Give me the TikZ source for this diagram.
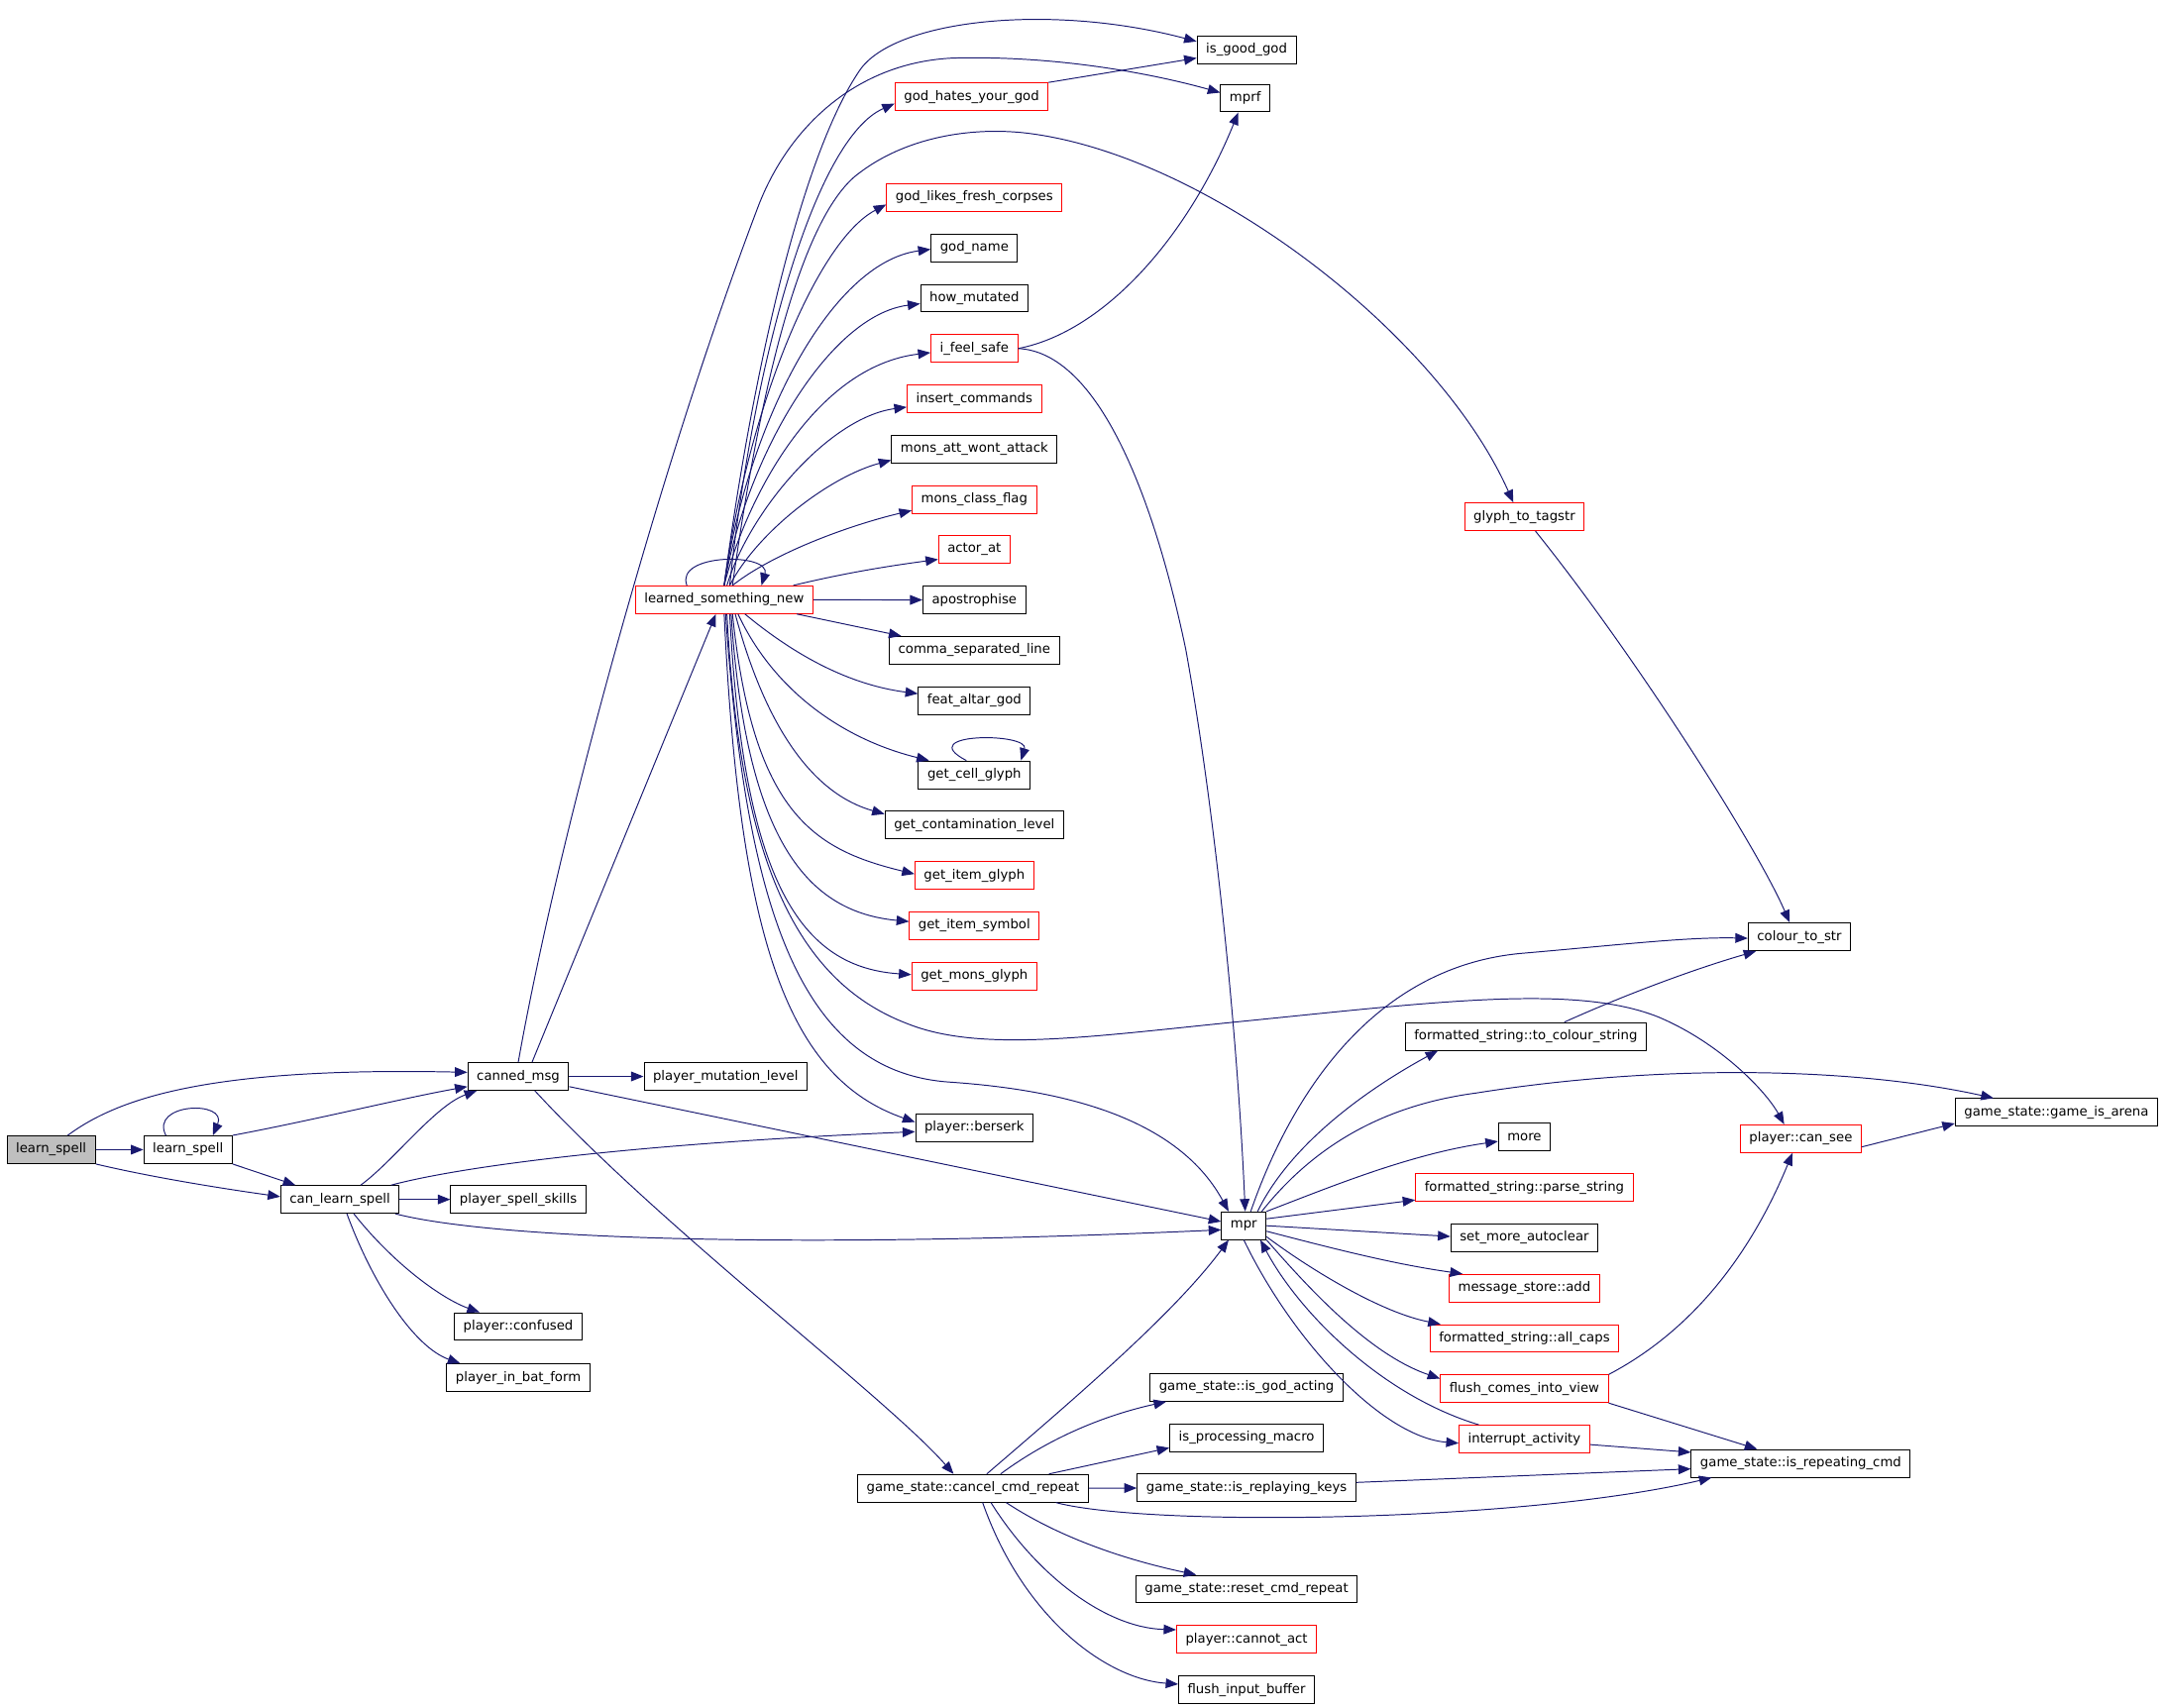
\documentclass[tikz,border=0pt]{standalone}
\usepackage{fontspec}
\setmainfont{DejaVu Sans}
\usepackage{xcolor}
\usepackage{tikz}
\usetikzlibrary{arrows.meta, positioning}

\definecolor{edgeblue}{HTML}{191970}
\definecolor{nodered}{HTML}{FF0000}
\definecolor{rootgray}{HTML}{BFBFBF}

\begin{document}
\begin{tikzpicture}[
    x=1pt, y=-1pt,
    node distance=15.7pt,
    box/.style={rectangle, draw=black, line width=0.7pt, fill=white, inner xsep=6.5pt, inner ysep=0pt, minimum height=20pt, font=\fontsize{9.5}{11}\selectfont},
    redbox/.style={box, draw=nodered},
    rootbox/.style={box, fill=rootgray},
    arrow/.style={-{Triangle[length=9pt, width=7pt]}, edgeblue, line width=0.7pt}
]
\useasboundingbox (0,0) rectangle (1568,1236);

% left part
\node[rootbox] (learn) at (37,832) {learn\_spell};
\node[box] (learn2) at (136,832) {learn\_spell};
\node[box] (canlearn) at (246,868) {can\_learn\_spell};
\node[box] (canned) at (375,779) {canned\_msg};
\node[box] (mutlevel) at (525,779) {player\_mutation\_level};
\node[box] (spellskills) at (375,868) {player\_spell\_skills};
\node[box] (confused) at (375,960) {player::confused};
\node[box] (batform) at (375,997) {player\_in\_bat\_form};

% learned_something_new and its callees
\node[redbox] (lsn) at (524,434) {learned\_something\_new};
\node[redbox] (ghyg) at (703,70) {god\_hates\_your\_god};
\node[redbox] (godlikes) at (705,143) {god\_likes\_fresh\_corpses};
\node[box, below=of godlikes] (godname) {god\_name};
\node[box, below=of godname] (howmut) {how\_mutated};
\node[redbox, below=of howmut] (feelsafe) {i\_feel\_safe};
\node[redbox, below=of feelsafe] (insert) {insert\_commands};
\node[box, below=of insert] (monsatt) {mons\_att\_wont\_attack};
\node[redbox, below=of monsatt] (monsclass) {mons\_class\_flag};
\node[redbox, below=of monsclass] (actor) {actor\_at};
\node[box, below=of actor] (apost) {apostrophise};
\node[box, below=of apost] (comma) {comma\_separated\_line};
\node[box, below=of comma] (feat) {feat\_altar\_god};
\node[box, below=33pt of feat] (cellglyph) {get\_cell\_glyph};
\node[box, below=of cellglyph] (contam) {get\_contamination\_level};
\node[redbox, below=of contam] (itemglyph) {get\_item\_glyph};
\node[redbox, below=of itemglyph] (itemsym) {get\_item\_symbol};
\node[redbox, below=of itemsym] (monsglyph) {get\_mons\_glyph};
\node[box] (berserk) at (705,816) {player::berserk};

% top right
\node[box] (isgood) at (902,36) {is\_good\_god};
\node[box] (mprf) at (901,71) {mprf};
\node[redbox] (glyph) at (1103,374) {glyph\_to\_tagstr};
\node[box] (colour) at (1302,678) {colour\_to\_str};
\node[box] (tocolour) at (1104,750) {formatted\_string::to\_colour\_string};
\node[box] (arena) at (1488,805) {game\_state::game\_is\_arena};
\node[redbox] (cansee) at (1303,824) {player::can\_see};

% mpr and its callees
\node[box] (mpr) at (900,887) {mpr};
\node[box] (more) at (1103,823) {more};
\node[redbox, below=of more] (parse) {formatted\_string::parse\_string};
\node[box, below=of parse] (setmore) {set\_more\_autoclear};
\node[redbox, below=of setmore] (msgadd) {message\_store::add};
\node[redbox, below=of msgadd] (allcaps) {formatted\_string::all\_caps};
\node[redbox, below=of allcaps] (flushview) {flush\_comes\_into\_view};
\node[redbox, below=of flushview] (interrupt) {interrupt\_activity};
\node[box] (repeating) at (1303,1059) {game\_state::is\_repeating\_cmd};

% cancel_cmd_repeat and its callees
\node[box] (cancel) at (704,1077) {game\_state::cancel\_cmd\_repeat};
\node[box] (isgod) at (902,1004) {game\_state::is\_god\_acting};
\node[box, below=of isgod] (isproc) {is\_processing\_macro};
\node[box, below=of isproc] (replay) {game\_state::is\_replaying\_keys};
\node[box] (reset) at (902,1150) {game\_state::reset\_cmd\_repeat};
\node[redbox, below=of reset] (cannotact) {player::cannot\_act};
\node[box, below=of cannotact] (flushinput) {flush\_input\_buffer};

% edges from learn_spell
\draw[arrow] (learn) -- (learn2);
\draw[arrow] ([xshift=12pt]learn.north) .. controls (85,795) and (150,772) .. ([yshift=3pt]canned.west);
\draw[arrow] (learn.south east) .. controls (110,852) and (160,860) .. ([yshift=2pt]canlearn.west);
\draw[arrow] ([xshift=-16pt]learn2.north) .. controls (108,798) and (165,796) .. ([xshift=18pt]learn2.north);
\draw[arrow] (learn2.north east) .. controls (230,810) and (290,795) .. ([yshift=3pt]canned.south west);
\draw[arrow] (learn2.south east) -- ([xshift=11pt]canlearn.north west);

% edges from can_learn_spell
\draw[arrow] ([xshift=15pt]canlearn.north) .. controls (285,840) and (315,800) .. ([xshift=-30pt]canned.south);
\draw[arrow] (canlearn) -- (spellskills);
\draw[arrow] ([xshift=37pt]canlearn.north) .. controls (330,845) and (450,828) .. ([yshift=-3pt]berserk.west);
\draw[arrow] ([xshift=40pt]canlearn.south) .. controls (350,895) and (550,905) .. ([yshift=-3pt]mpr.west);
\draw[arrow] ([xshift=10pt]canlearn.south) .. controls (285,915) and (320,940) .. ([xshift=-28pt]confused.north);
\draw[arrow] ([xshift=5pt]canlearn.south) .. controls (270,930) and (300,975) .. ([xshift=-42pt]batform.north);

% edges from canned_msg
\draw[arrow] (canned) -- (mutlevel);
\draw[arrow] ([yshift=3pt]canned.south east) -- ([yshift=3pt]mpr.west);
\draw[arrow] ([xshift=12pt]canned.south) .. controls (480,890) and (640,1010) .. ([xshift=-14pt]cancel.north);
\draw[arrow] (canned.north) .. controls (405,600) and (480,330) .. (548,151) .. controls (570,92) and (620,45) .. (690,42) .. controls (770,40) and (840,55) .. ([yshift=4pt]mprf.west);
\draw[arrow] ([xshift=10pt]canned.north) -- ([xshift=-6pt]lsn.south);

% edges from learned_something_new
\draw[arrow] ([xshift=-27pt]lsn.north) .. controls (488,400) and (558,400) .. ([xshift=27pt]lsn.north);
\draw[arrow] (lsn.north) .. controls (540,300) and (575,120) .. (622,51) .. controls (647,14) and (760,2) .. ([yshift=6pt]isgood.west);
\draw[arrow] ([xshift=4pt]lsn.north) .. controls (545,260) and (590,100) .. ([yshift=-5pt]ghyg.west);
\draw[arrow] ([xshift=6pt]lsn.north) .. controls (550,280) and (580,155) .. (622,125) .. controls (655,100) and (700,92) .. (740,96) .. controls (870,110) and (1040,240) .. ([xshift=-8pt]glyph.north);
\draw[arrow] (lsn.north) .. controls (540,300) and (590,175) .. ([yshift=-5pt]godlikes.west);
\draw[arrow] (lsn.north) .. controls (540,310) and (600,190) .. ([yshift=-1pt]godname.west);
\draw[arrow] (lsn.north) .. controls (540,330) and (600,228) .. ([yshift=-4pt]howmut.west);
\draw[arrow] (lsn.north) .. controls (540,360) and (590,265) .. ([yshift=-3pt]feelsafe.west);
\draw[arrow] ([xshift=2pt]lsn.north) .. controls (542,370) and (600,302) .. ([yshift=-6pt]insert.west);
\draw[arrow] ([xshift=4pt]lsn.north) .. controls (548,385) and (600,345) .. ([yshift=-8pt]monsatt.west);
\draw[arrow] ([xshift=6pt]lsn.north) .. controls (560,400) and (615,380) .. ([yshift=-8pt]monsclass.west);
\draw[arrow] ([xshift=50pt]lsn.north) .. controls (610,415) and (640,410) .. ([yshift=-7pt]actor.west);
\draw[arrow] (lsn) -- (apost);
\draw[arrow] ([xshift=-12pt]lsn.south east) -- ([xshift=9pt]comma.north west);
\draw[arrow] ([xshift=15pt]lsn.south) .. controls (570,470) and (610,495) .. ([yshift=5pt]feat.west);
\draw[arrow] ([xshift=10pt]lsn.south) .. controls (560,500) and (610,535) .. ([xshift=8pt]cellglyph.north west);
\draw[arrow] ([xshift=35pt]cellglyph.north west) .. controls (660,530) and (745,530) .. ([xshift=-7pt]cellglyph.north east);
\draw[arrow] ([xshift=8pt]lsn.south) .. controls (555,530) and (590,575) .. ([yshift=8pt]contam.west);
\draw[arrow] ([xshift=6pt]lsn.south) .. controls (545,590) and (590,615) .. ([yshift=1pt]itemglyph.west);
\draw[arrow] ([xshift=5pt]lsn.south) .. controls (540,610) and (585,660) .. ([yshift=3pt]itemsym.west);
\draw[arrow] ([xshift=4pt]lsn.south) .. controls (538,640) and (580,700) .. ([yshift=1pt]monsglyph.west);
\draw[arrow] ([xshift=2pt]lsn.south) .. controls (535,620) and (575,710) .. (657,741) .. controls (710,762) and (790,750) .. (900,739) .. controls (1040,725) and (1140,712) .. (1200,736) .. controls (1245,755) and (1278,790) .. ([xshift=-12pt]cansee.north);
\draw[arrow] ([xshift=1pt]lsn.south) .. controls (540,660) and (580,775) .. (686,783) .. controls (760,788) and (850,805) .. ([xshift=-11pt]mpr.north);
\draw[arrow] (lsn.south) .. controls (535,680) and (570,780) .. ([yshift=4pt]berserk.west);

% other upper edges
\draw[arrow] (ghyg.north east) -- ([yshift=-6pt]isgood.west);
\draw[arrow] (feelsafe.east) .. controls (800,240) and (860,170) .. ([xshift=-5pt]mprf.south);
\draw[arrow] (feelsafe.east) .. controls (795,255) and (835,360) .. (858,470) .. controls (878,580) and (895,740) .. ([xshift=1pt]mpr.north);
\draw[arrow] ([xshift=8pt]glyph.south) .. controls (1180,470) and (1270,610) .. ([xshift=-7pt]colour.north);
\draw[arrow] ([xshift=28pt]tocolour.north) .. controls (1180,718) and (1230,700) .. ([xshift=6pt]colour.south west);
\draw[arrow] ([yshift=-6pt]cansee.east) -- ([yshift=-8pt]arena.west);

% edges from mpr
\draw[arrow] ([xshift=5pt]mpr.north) .. controls (935,790) and (995,700) .. (1100,690) .. controls (1170,684) and (1220,678) .. ([yshift=-1pt]colour.west);
\draw[arrow] ([xshift=10pt]mpr.north) .. controls (935,825) and (995,785) .. ([xshift=24pt]tocolour.south west);
\draw[arrow] ([xshift=13pt]mpr.north) .. controls (950,830) and (1000,800) .. (1068,791) .. controls (1200,770) and (1340,772) .. ([xshift=28pt]arena.north west);
\draw[arrow] (mpr.north east) .. controls (960,860) and (1020,835) .. ([yshift=-3pt]more.west);
\draw[arrow] ([yshift=5pt]mpr.east) -- ([yshift=-9pt]parse.west);
\draw[arrow] (mpr.east) -- ([yshift=1pt]setmore.west);
\draw[arrow] ([yshift=-4pt]mpr.east) .. controls (970,905) and (1010,915) .. ([xshift=10pt]msgadd.north west);
\draw[arrow] ([yshift=-8pt]mpr.east) .. controls (950,920) and (1000,950) .. ([xshift=8pt]allcaps.north west);
\draw[arrow] (mpr.south east) .. controls (945,930) and (990,980) .. ([yshift=-3pt]flushview.north west);
\draw[arrow] (mpr.south) .. controls (935,970) and (1000,1040) .. ([yshift=-3pt]interrupt.west);
\draw[arrow] ([xshift=-33pt]interrupt.north) .. controls (1000,1010) and (940,950) .. ([xshift=12pt]mpr.south);
\draw[arrow] (flushview.north east) .. controls (1230,960) and (1270,900) .. ([xshift=-6pt]cansee.south);
\draw[arrow] (flushview.south east) -- ([xshift=48pt]repeating.north west);
\draw[arrow] ([yshift=-4pt]interrupt.east) -- ([yshift=8pt]repeating.west);

% edges from cancel_cmd_repeat
\draw[arrow] ([xshift=10pt]cancel.north) .. controls (780,1010) and (850,950) .. ([xshift=-11pt]mpr.south);
\draw[arrow] ([xshift=20pt]cancel.north) .. controls (760,1040) and (800,1024) .. ([xshift=12pt]isgod.south west);
\draw[arrow] ([xshift=55pt]cancel.north) -- ([yshift=3pt]isproc.south west);
\draw[arrow] (cancel) -- (replay);
\draw[arrow] ([yshift=4pt]replay.east) -- ([yshift=-4pt]repeating.west);
\draw[arrow] ([xshift=60pt]cancel.south) .. controls (830,1105) and (1100,1102) .. ([xshift=15pt]repeating.south west);
\draw[arrow] ([xshift=24pt]cancel.south) .. controls (770,1115) and (820,1130) .. ([xshift=44pt]reset.north west);
\draw[arrow] ([xshift=13pt]cancel.south) .. controls (750,1140) and (800,1178) .. ([yshift=7pt]cannotact.west);
\draw[arrow] ([xshift=7pt]cancel.south) .. controls (740,1170) and (800,1215) .. ([yshift=4pt]flushinput.west);

\end{tikzpicture}
\end{document}
